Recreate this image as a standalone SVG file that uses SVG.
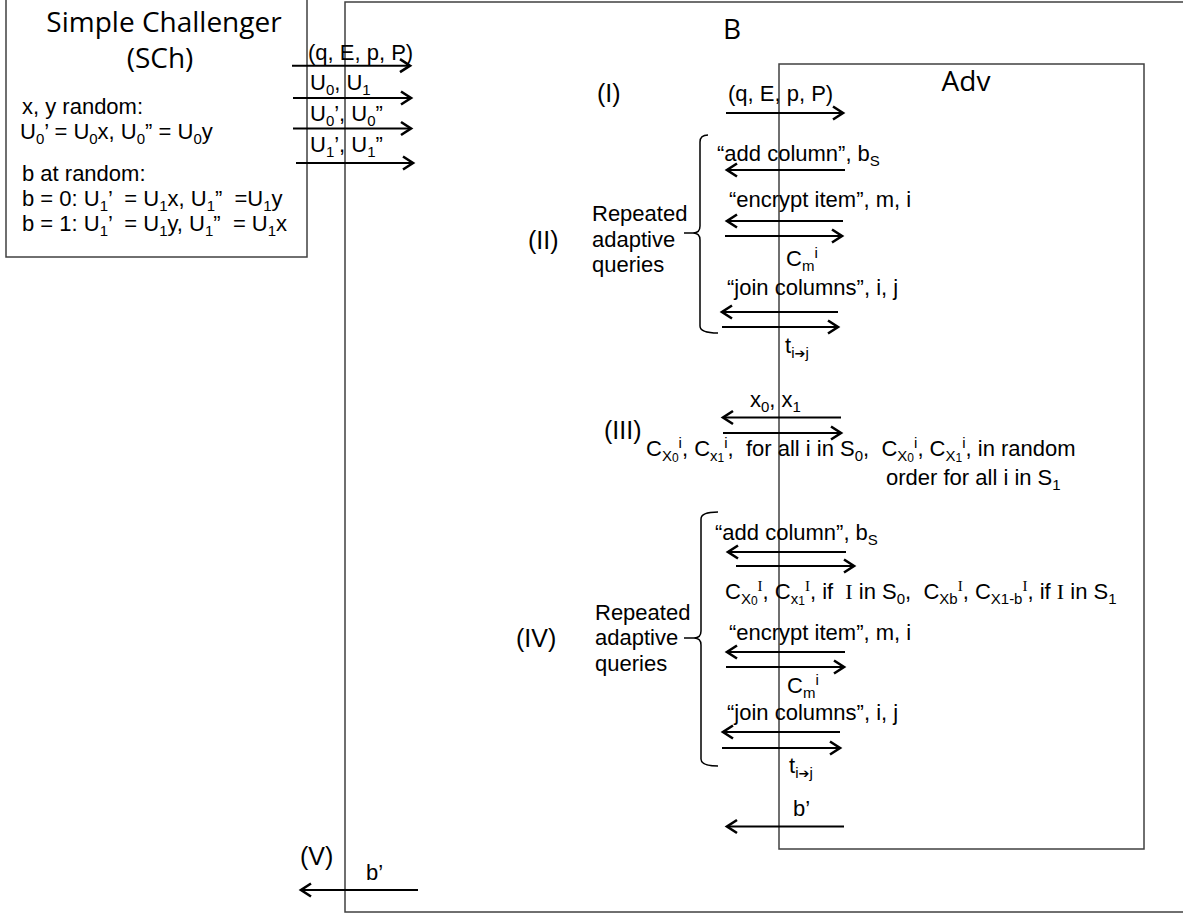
<svg xmlns="http://www.w3.org/2000/svg" width="1183" height="913" viewBox="0 0 1183 913">
<style>
text{font-family:"Liberation Sans",Arial,sans-serif;font-size:22px;fill:#000;white-space:pre}
.cal{font-family:"Open Sans",sans-serif;font-size:28px}
.ph{font-size:25px}
.box{fill:none;stroke:#404040;stroke-width:1.5}
.arr{stroke:#000;stroke-width:2;fill:none;marker-end:url(#ah)}
.br{fill:none;stroke:#000;stroke-width:1.5}
.sb{font-size:15px;baseline-shift:-5px}
.sb2{font-size:12px;baseline-shift:-1px}
.sp{font-size:15px;baseline-shift:8px}
.ser{font-family:"Liberation Serif",serif}
.dj{font-family:"DejaVu Sans",sans-serif;font-weight:bold;font-size:13px}
</style>
<defs>
<marker id="ah" markerUnits="userSpaceOnUse" markerWidth="16" markerHeight="18" refX="12" refY="9" orient="auto">
<path d="M2,2.5 L12,9 L2,15.5" fill="none" stroke="#000" stroke-width="2.6"/>
</marker>
</defs>
<rect width="1183" height="913" fill="#fff"/>
<g id="B">
<rect class="box" x="345" y="2" width="850" height="910"/>
<text class="cal" x="732" y="39" text-anchor="middle">B</text>
</g>
<g id="Adv">
<rect class="box" x="779" y="64" width="365" height="785"/>
<text class="cal" x="966" y="91" text-anchor="middle">Adv</text>
</g>
<g id="SCh">
<rect class="box" x="6" y="-2" width="301" height="259" fill="#fff"/>
<text class="cal" x="164" y="32" text-anchor="middle">Simple Challenger</text>
<text class="cal" x="160" y="68" text-anchor="middle">(SCh)</text>
<text x="22" y="114">x, y random:</text>
<text x="20" y="139">U<tspan class="sb">0</tspan>’ = U<tspan class="sb">0</tspan>x, U<tspan class="sb">0</tspan>” = U<tspan class="sb">0</tspan>y</text>
<text x="22" y="181">b at random:</text>
<text x="22" y="206">b = 0: U<tspan class="sb">1</tspan>’  = U<tspan class="sb">1</tspan>x, U<tspan class="sb">1</tspan>”  =U<tspan class="sb">1</tspan>y</text>
<text x="22" y="231">b = 1: U<tspan class="sb">1</tspan>’  = U<tspan class="sb">1</tspan>y, U<tspan class="sb">1</tspan>”  = U<tspan class="sb">1</tspan>x</text>
</g>
<g id="phases">
<text class="ph" x="597" y="102">(I)</text>
<text class="ph" x="528" y="249">(II)</text>
<text class="ph" x="604" y="439">(III)</text>
<text class="ph" x="516" y="647">(IV)</text>
<text class="ph" x="300" y="865">(V)</text>
</g>
<g id="query-group-II">
<path class="br" d="M708,135 Q700,135 700,142 L700,226 Q700,233 693,233 Q700,233 700,240 L700,326 Q700,333 718,333 M684,233 H693"/>
<text x="592" y="221">Repeated</text>
<text x="592" y="247">adaptive</text>
<text x="592" y="272">queries</text>
</g>
<g id="query-group-IV">
<path class="br" d="M718,512 Q701,512 701,519 L701,631 Q701,638 694,638 Q701,638 701,645 L701,759 Q701,766 718,766 M684,638 H694"/>
<text x="595" y="620">Repeated</text>
<text x="595" y="645">adaptive</text>
<text x="595" y="671">queries</text>
</g>
<g id="connectors">
<line class="arr" x1="292" y1="65.7" x2="410" y2="65.7"/>
<line class="arr" x1="293" y1="98" x2="411" y2="98"/>
<line class="arr" x1="293" y1="128.5" x2="411" y2="128.5"/>
<line class="arr" x1="296" y1="163" x2="413" y2="163"/>
<line class="arr" x1="726" y1="113" x2="843" y2="113"/>
<line class="arr" x1="845" y1="170" x2="727" y2="170"/>
<line class="arr" x1="843" y1="221" x2="727" y2="221"/>
<line class="arr" x1="725" y1="236" x2="842" y2="236"/>
<line class="arr" x1="838" y1="312" x2="722" y2="312"/>
<line class="arr" x1="722" y1="327" x2="838" y2="327"/>
<line class="arr" x1="841" y1="417.5" x2="723" y2="417.5"/>
<line class="arr" x1="723" y1="433" x2="841" y2="433"/>
<line class="arr" x1="846" y1="552" x2="728" y2="552"/>
<line class="arr" x1="736" y1="566" x2="854" y2="566"/>
<line class="arr" x1="845" y1="652" x2="727" y2="652"/>
<line class="arr" x1="726" y1="667" x2="844" y2="667"/>
<line class="arr" x1="840" y1="732" x2="723" y2="732"/>
<line class="arr" x1="722" y1="748" x2="840" y2="748"/>
<line class="arr" x1="844" y1="826.5" x2="727" y2="826.5"/>
<line class="arr" x1="418" y1="890" x2="301" y2="890"/>
</g>
<g id="labels">
<text x="308" y="60">(q, E, p, P)</text>
<text x="310" y="90">U<tspan class="sb">0</tspan>, U<tspan class="sb">1</tspan></text>
<text x="310" y="121">U<tspan class="sb">0</tspan>’, U<tspan class="sb">0</tspan>”</text>
<text x="310" y="152">U<tspan class="sb">1</tspan>’, U<tspan class="sb">1</tspan>”</text>
<text x="728" y="100.5">(q, E, p, P)</text>
<text x="717" y="160.7">“add column”, b<tspan class="sb">S</tspan></text>
<text x="729" y="207">“encrypt item”, m, i</text>
<text x="786" y="266">C<tspan class="sb">m</tspan><tspan class="sp">i</tspan></text>
<text x="727" y="295">“join columns”, i, j</text>
<text x="785" y="353">t<tspan class="sb">i<tspan class="dj">➔</tspan>j</tspan></text>
<text x="750" y="407">x<tspan class="sb">0</tspan>, x<tspan class="sb">1</tspan></text>
<text x="646" y="456">C<tspan class="sb">X<tspan class="sb2">0</tspan></tspan><tspan class="sp">i</tspan>, C<tspan class="sb">x<tspan class="sb2">1</tspan></tspan><tspan class="sp">i</tspan>,  for all i in S<tspan class="sb">0</tspan>,  C<tspan class="sb">X<tspan class="sb2">0</tspan></tspan><tspan class="sp">i</tspan>, C<tspan class="sb">X<tspan class="sb2">1</tspan></tspan><tspan class="sp">i</tspan>, in random</text>
<text x="886" y="485">order for all i in S<tspan class="sb">1</tspan></text>
<text x="715" y="540">“add column”, b<tspan class="sb">S</tspan></text>
<text x="725" y="599">C<tspan class="sb">X<tspan class="sb2">0</tspan></tspan><tspan class="sp ser">I</tspan>, C<tspan class="sb">x<tspan class="sb2">1</tspan></tspan><tspan class="sp ser">I</tspan>, if  <tspan class="ser">I</tspan> in S<tspan class="sb">0</tspan>,  C<tspan class="sb">Xb</tspan><tspan class="sp ser">I</tspan>, C<tspan class="sb">X1-b</tspan><tspan class="sp ser">I</tspan>, if <tspan class="ser">I</tspan> in S<tspan class="sb">1</tspan></text>
<text x="729" y="640">“encrypt item”, m, i</text>
<text x="787" y="693">C<tspan class="sb">m</tspan><tspan class="sp">i</tspan></text>
<text x="727" y="720">“join columns”, i, j</text>
<text x="789" y="773">t<tspan class="sb">i<tspan class="dj">➔</tspan>j</tspan></text>
<text x="793" y="816">b’</text>
<text x="366" y="880">b’</text>
</g>
</svg>
